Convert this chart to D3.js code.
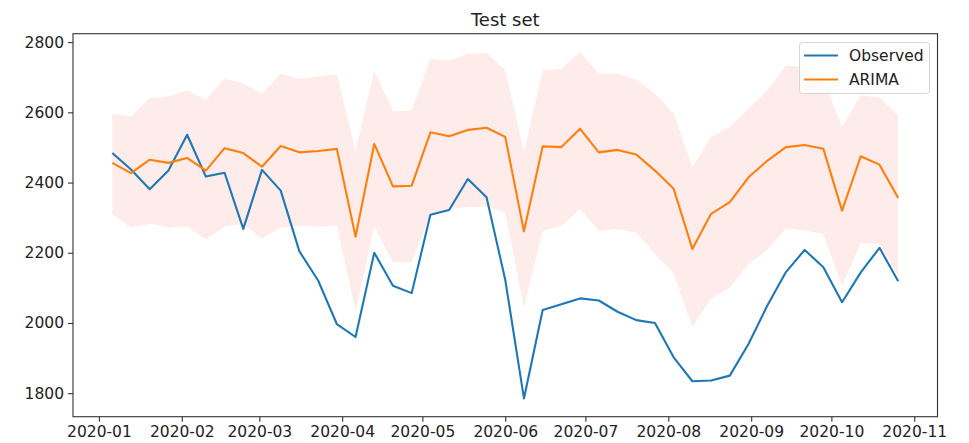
<!DOCTYPE html>
<html>
<head>
<meta charset="utf-8">
<script src="https://cdn.jsdelivr.net/npm/d3@7"></script>
<style>
  html, body { margin: 0; padding: 0; background: #fff; }
  svg { display: block; font-family: "DejaVu Sans", sans-serif; }
</style>
</head>
<body>
<svg id="chart" width="969" height="443"></svg>
<script>
// ---- data (weekly, starting 2020-01-06) ----
const startDate = "2020-01-06";
const observed = [2484, 2437, 2381, 2434, 2536, 2417, 2428, 2268, 2436, 2377,
  2204, 2121, 1997, 1960, 2200, 2106, 2085, 2308, 2322, 2410,
  2358, 2123, 1785, 2037, 2053, 2070, 2064, 2032, 2008, 2000,
  1902, 1834, 1836, 1850, 1940, 2049, 2145, 2208, 2159, 2059,
  2144, 2214, 2119];
const arima = [2456, 2427, 2465, 2456, 2470, 2434, 2498, 2484, 2445, 2504,
  2486, 2490, 2496, 2246, 2510, 2389, 2391, 2543, 2532, 2550,
  2556, 2530, 2261, 2503, 2501, 2553, 2486, 2493, 2480, 2434,
  2382, 2211, 2311, 2344, 2415, 2462, 2501, 2507, 2496, 2320,
  2475, 2451, 2356];
const upper = [2595, 2588, 2640, 2645, 2662, 2636, 2696, 2683, 2652, 2710,
  2695, 2702, 2708, 2490, 2719, 2603, 2605, 2752, 2748, 2767,
  2769, 2719, 2488, 2719, 2724, 2771, 2710, 2710, 2693, 2653,
  2596, 2444, 2529, 2558, 2610, 2662, 2733, 2729, 2691, 2558,
  2648, 2643, 2591];
const lower = [2310, 2272, 2283, 2272, 2275, 2238, 2275, 2282, 2240, 2273,
  2277, 2275, 2278, 2035, 2275, 2173, 2173, 2311, 2325, 2330,
  2332, 2315, 2045, 2263, 2277, 2325, 2263, 2268, 2258, 2197,
  2140, 1989, 2070, 2100, 2168, 2208, 2270, 2263, 2254, 2105,
  2228, 2226, 2135];
const yTicks = [1800, 2000, 2200, 2400, 2600, 2800];
const seriesNames = ["Observed", "ARIMA"];
const title = "Test set";

// ---- build dates ----
const parse = d3.utcParse("%Y-%m-%d");
const d0 = parse(startDate);
const dates = observed.map((_, i) => d3.utcDay.offset(d0, 7 * i));
const rows = dates.map((d, i) => ({ date: d, obs: observed[i], ar: arima[i], lo: lower[i], hi: upper[i] }));

// ---- layout ----
const svg = d3.select("#chart");
const L = 73, R = 937.5, T = 33.7, B = 416.7;
const span = dates[dates.length - 1] - dates[0];
const x = d3.scaleUtc()
  .domain([new Date(+dates[0] - span * 0.05), new Date(+dates[dates.length - 1] + span * 0.05)])
  .range([L, R]);
const y = d3.scaleLinear().domain([1733, 2824]).range([B, T]);

const colObs = "#1f77b4", colAr = "#ff7f0e";
const fs = "15.5px";

// band
svg.append("path")
  .datum(rows)
  .attr("fill", "#f4a090")
  .attr("fill-opacity", 0.2)
  .attr("d", d3.area().x(d => x(d.date)).y0(d => y(d.lo)).y1(d => y(d.hi)));

// lines
svg.append("path").datum(rows)
  .attr("fill", "none").attr("stroke", colObs).attr("stroke-width", 2.1)
  .attr("stroke-linejoin", "round")
  .attr("d", d3.line().x(d => x(d.date)).y(d => y(d.obs)));
svg.append("path").datum(rows)
  .attr("fill", "none").attr("stroke", colAr).attr("stroke-width", 2.1)
  .attr("stroke-linejoin", "round")
  .attr("d", d3.line().x(d => x(d.date)).y(d => y(d.ar)));

// axes
const xTicks = d3.utcMonth.range(parse("2020-01-01"), parse("2020-11-02"));
const xAxis = d3.axisBottom(x).tickValues(xTicks).tickFormat(d3.utcFormat("%Y-%m")).tickSizeOuter(0).tickSize(5).tickPadding(4);
const yAxis = d3.axisLeft(y).tickValues(yTicks).tickFormat(d3.format("d")).tickSizeOuter(0).tickSize(5).tickPadding(4);

const gx = svg.append("g").attr("transform", `translate(0,${B})`).call(xAxis);
const gy = svg.append("g").attr("transform", `translate(${L},0)`).call(yAxis);
[gx, gy].forEach(g => {
  g.select(".domain").remove();
  g.selectAll(".tick line").attr("stroke", "#333").attr("stroke-width", 1.1);
  g.selectAll(".tick text").attr("fill", "#222").style("font-size", fs).style("font-family", "DejaVu Sans");
});

// frame
svg.append("rect").attr("x", L).attr("y", T).attr("width", R - L).attr("height", B - T)
  .attr("fill", "none").attr("stroke", "#333").attr("stroke-width", 1.1);

// title
svg.append("text").attr("x", (L + R) / 2).attr("y", 26).attr("text-anchor", "middle")
  .style("font-size", "18px").attr("fill", "#222").text(title);

// legend
const lg = svg.append("g");
lg.append("rect").attr("x", 799.5).attr("y", 42.5).attr("width", 130).attr("height", 51)
  .attr("rx", 3).attr("fill", "#fff").attr("fill-opacity", 0.8).attr("stroke", "#d6d6d6").attr("stroke-width", 1);
[colObs, colAr].forEach((c, i) => {
  const yy = 55.5 + i * 24;
  lg.append("line").attr("x1", 804).attr("x2", 838).attr("y1", yy).attr("y2", yy)
    .attr("stroke", c).attr("stroke-width", 2.1);
  lg.append("text").attr("x", 849).attr("y", yy).attr("dy", "0.36em")
    .style("font-size", fs).attr("fill", "#222").text(seriesNames[i]);
});
</script>
</body>
</html>
